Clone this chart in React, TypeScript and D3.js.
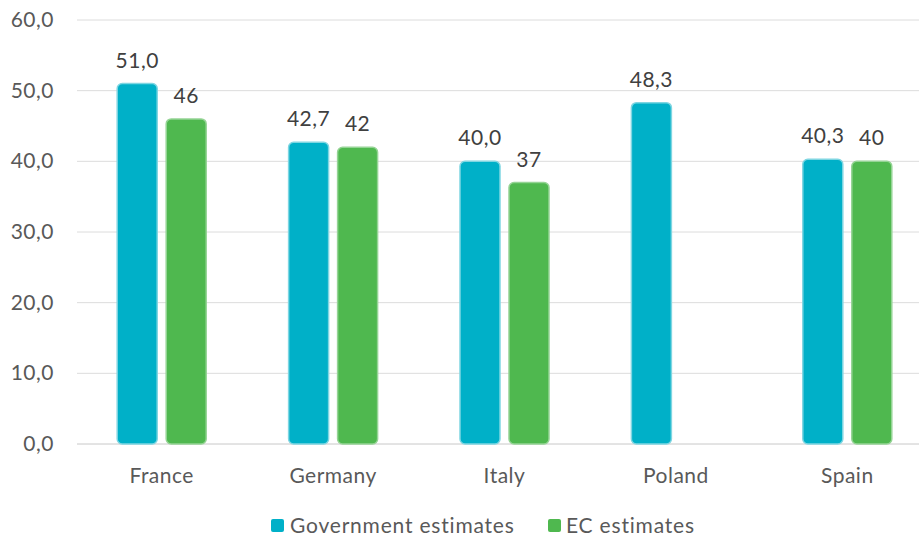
import React from "react"
import * as d3 from "d3"

const countries = ["France", "Germany", "Italy", "Poland", "Spain"]
const govValues = [51.0, 42.7, 40.0, 48.3, 40.3]
const ecValues: (number | null)[] = [46, 42, 37, null, 40]
const yTicks = [0, 10, 20, 30, 40, 50, 60]

const width = 919
const height = 539
const margin = { top: 20, bottom: 95, left: 77 }
const gridRight = 919

const govColor = "#00B0C8"
const govStroke = "#7fd6e2"
const ecColor = "#4FB84F"
const ecStroke = "#95d495"
const textColor = "#404040"
const axisColor = "#595959"
const fmt1 = (v: number) => v.toFixed(1).replace(".", ",")

export default function App() {
  const x = d3.scaleBand().domain(countries).range([76, 933])
  const y = d3
    .scaleLinear()
    .domain([0, 60])
    .range([height - margin.bottom, margin.top])

  const barW = 40
  const gap = 9

  return (
    <svg
      width={width}
      height={height}
      style={{ position: "absolute", left: 0, top: 0, fontFamily: "Lato, sans-serif", letterSpacing: 0.5 }}
    >
      <rect width={width} height={height} fill="#fff" />
      {yTicks.map(t => (
        <g key={t}>
          <line
            x1={margin.left}
            x2={gridRight}
            y1={y(t)}
            y2={y(t)}
            stroke={t === 0 ? "#c8c8c8" : "#dcdcdc"}
            strokeWidth={1}
          />
          <text x={54} y={y(t) + 7} textAnchor="end" fontSize={21} fill={axisColor}>
            {fmt1(t)}
          </text>
        </g>
      ))}

      {countries.map((c, i) => {
        const cx = (x(c) as number) + x.bandwidth() / 2
        const gx = cx - gap / 2 - barW
        const ex = cx + gap / 2
        const g = govValues[i]
        const e = ecValues[i]
        return (
          <g key={c}>
            <rect
              x={gx}
              y={y(g)}
              width={barW}
              height={y(0) - y(g)}
              rx={5}
              fill={govColor}
              stroke={govStroke}
              strokeWidth={1.5}
            />
            <text x={gx + barW / 2} y={y(g) - 16} textAnchor="middle" fontSize={21} fill={textColor}>
              {fmt1(g)}
            </text>
            {e !== null && (
              <>
                <rect
                  x={ex}
                  y={y(e)}
                  width={barW}
                  height={y(0) - y(e)}
                  rx={5}
                  fill={ecColor}
                  stroke={ecStroke}
                  strokeWidth={1.5}
                />
                <text x={ex + barW / 2} y={y(e) - 16} textAnchor="middle" fontSize={21} fill={textColor}>
                  {String(e)}
                </text>
              </>
            )}
            <text x={cx} y={483} textAnchor="middle" fontSize={21} fill={axisColor}>
              {c}
            </text>
          </g>
        )
      })}

      <g>
        <rect x={271} y={519} width={13} height={13} rx={2} fill={govColor} />
        <text x={290} y={533} fontSize={21} letterSpacing={0.8} fill={axisColor}>Government estimates</text>
        <rect x={548} y={519} width={13} height={13} rx={2} fill={ecColor} />
        <text x={566} y={533} fontSize={21} letterSpacing={0.8} fill={axisColor}>EC estimates</text>
      </g>
    </svg>
  )
}
